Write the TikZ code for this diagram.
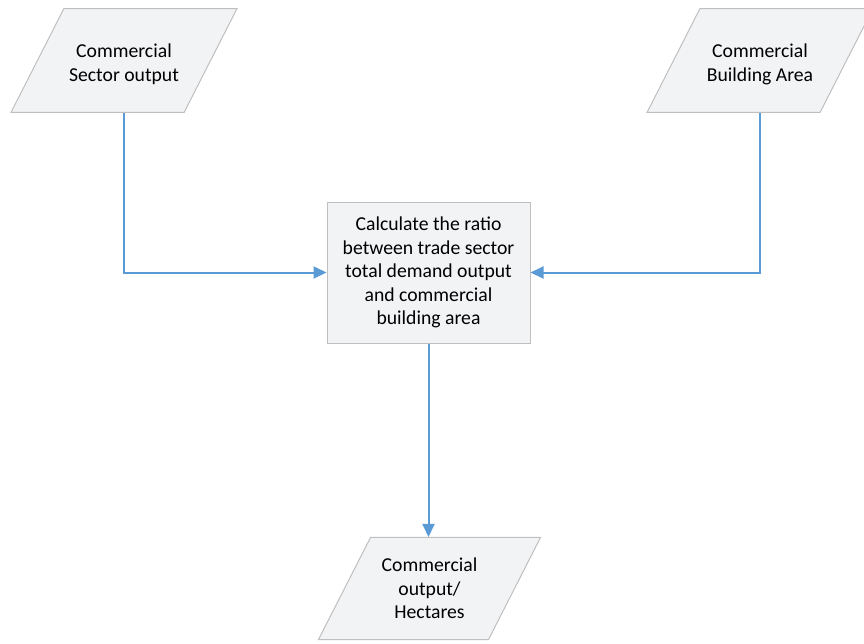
\documentclass[tikz,border=0pt]{standalone}
\usepackage{fontspec}
\setmainfont{Carlito}
\usetikzlibrary{shapes.geometric,arrows.meta}
\definecolor{boxfill}{HTML}{F2F3F5}
\definecolor{boxline}{HTML}{BFBFBF}
\definecolor{flowblue}{HTML}{5B9BD5}
\newcommand{\labelfont}{\fontsize{19.7}{23.6}\selectfont}
% taller first line, so that two-line labels sit a little lower
\newcommand{\firststrut}{\rule{0pt}{21pt}}
\tikzset{
  iobox/.style={trapezium, trapezium left angle=63, trapezium right angle=117,
    trapezium stretches body, draw=boxline, fill=boxfill, line width=1pt,
    minimum width=226pt, inner xsep=0pt, inner ysep=28pt, align=center,
    font=\labelfont},
  procbox/.style={rectangle, draw=boxline, fill=boxfill, line width=1pt,
    minimum width=203pt, minimum height=141pt, inner sep=0pt, align=center,
    font=\labelfont},
  flow/.style={draw=flowblue, line width=2pt,
    -{Triangle[length=13pt,width=12pt]}},
}
\begin{document}
\begin{tikzpicture}[x=1pt,y=-1pt]
  \useasboundingbox (0,0) rectangle (864,643);
  % inputs
  \node[iobox] (sector) at (124,60.5) {\firststrut Commercial\\Sector output};
  \node[iobox] (area) at (760,60.5) {\firststrut Commercial\\Building Area};
  % calculation step
  \node[procbox] (calc) at (428.5,272.5)
    {Calculate the ratio\\between trade sector\\total demand output\\and commercial\\building area};
  % result
  \node[iobox, inner ysep=20.5pt, minimum width=222pt] (result) at (429.5,588.5)
    {Commercial\\output/\\Hectares};
  % connectors
  \draw[flow] (sector.center |- sector.south) |- (calc.west);
  \draw[flow] (area.center |- area.south) |- (calc.east);
  \draw[flow] (calc.south) -- (calc.south |- result.north);
\end{tikzpicture}
\end{document}
